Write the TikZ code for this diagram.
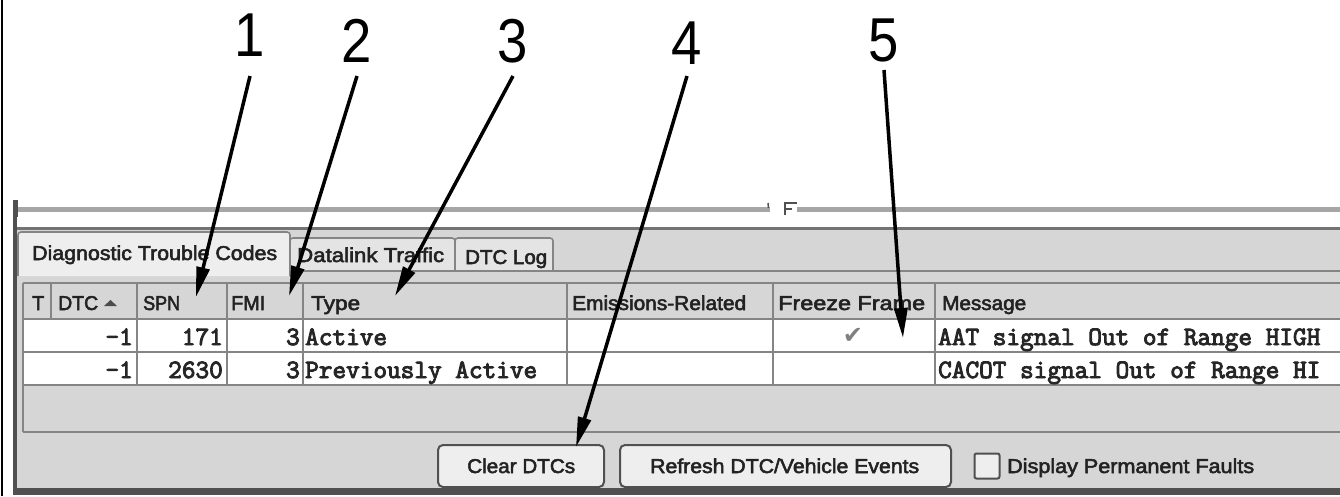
\documentclass[tikz,border=0pt]{standalone}
\usepackage{fontspec}
\setmainfont{Liberation Sans}
\newfontfamily\uif[FakeBold=2.6]{Liberation Sans}
\newfontfamily\monof[FakeBold=3.5]{Latin Modern Mono}
\newfontfamily\dejav{DejaVu Sans}
\usetikzlibrary{arrows.meta}
\definecolor{panelbg}{HTML}{D6D6D6}
\definecolor{gridc}{HTML}{858585}
\definecolor{darkb}{HTML}{505050}
\definecolor{tabbg}{HTML}{E4E4E4}
\definecolor{acttab}{HTML}{EEEEEE}
\definecolor{btnbg}{HTML}{EEEEEE}
\definecolor{uitext}{HTML}{222222}
\newcommand\fw[2]{\resizebox{#1pt}{\height}{#2}}
\begin{document}
\begin{tikzpicture}[x=1pt,y=-1pt,
  num/.style={font=\fontsize{62}{62}\selectfont, inner sep=0pt, anchor=south},
  arr/.style={line width=3.5pt, -{Triangle[length=30pt,width=13pt]}},
  ui/.style={font=\uif\fontsize{20}{20}\selectfont, inner sep=0pt, text=uitext, anchor=base west},
  mono/.style={font=\monof\fontsize{26.5}{27}\selectfont, inner sep=0pt, text=black!85},
  gridl/.style={draw=gridc, line width=2pt},
  btn/.style={draw=darkb, line width=2pt, fill=btnbg, rounded corners=5pt, minimum height=42pt, inner sep=0pt},
  tabsh/.style={draw=gridc, line width=1.6pt, rounded corners=3pt}
]
\useasboundingbox (0,0) rectangle (1340,496);
\fill[white] (0,0) rectangle (1340,496);
% outer black line
\draw[black, line width=2pt] (2,0) -- (2,496);
% panel background
\fill[panelbg] (13,228) rectangle (1340,494);
% splitter
\draw[gray!70, line width=5pt] (15,209) -- (770,209);
\draw[gray!70, line width=5pt] (797,209) -- (1340,209);
\fill[darkb] (13,200) rectangle (18,217);
\draw[darkb, line width=1.5pt] (768,203) -- (768.5,208);
\draw[darkb, line width=2.5pt] (785,215) -- (785,203) -- (797,203);
\draw[darkb, line width=2.5pt] (785,209) -- (792,209);
% panel borders
\draw[darkb!80, line width=3pt] (13,228.5) -- (1340,228.5);
\draw[darkb, line width=4pt] (15,200) -- (15,494);
\fill[darkb] (13,488) rectangle (1340,495);
% tabs
\draw[tabsh, fill=tabbg] (290,271) -- (290,238) -- (455,238) -- (455,271);
\draw[tabsh, fill=tabbg] (455,271) -- (455,238) -- (553,238) -- (553,271);
\draw[gridl] (290,271) -- (1340,271);
\draw[tabsh, fill=acttab] (18,276) -- (18,232) -- (290,232) -- (290,276);
\node[ui] (tab1) at (32,260) {\fw{245}{Diagnostic Trouble Codes}};
\node[ui] (tab2) at (297,262) {\fw{147}{Datalink Traffic}};
\node[ui] (tab3) at (465,264) {\fw{82}{DTC Log}};
% table
\fill[white] (23,319) rectangle (1340,385);
\foreach \yy in {283,319,352,385,432} \draw[gridl] (23,\yy) -- (1340,\yy);
\draw[gridl] (23,283) -- (23,432);
\foreach \xx in {51,137,227,303,567,773,935} \draw[gridl] (\xx,283) -- (\xx,319);
\foreach \xx in {137,227,303,567,773,935} \draw[gridl] (\xx,319) -- (\xx,385);
% header
\node[ui] (hT) at (32,310) {T};
\node[ui] (hDTC) at (58,310) {\fw{40}{DTC}};
\fill[black!70] (104,306) -- (117,306) -- (110.5,300) -- cycle;
\node[ui] (hSPN) at (143,310) {\fw{37}{SPN}};
\node[ui] (hFMI) at (231,310) {\fw{34}{FMI}};
\node[ui] (hType) at (311,310) {\fw{49}{Type}};
\node[ui] (hEm) at (572,310) {\fw{174}{Emissions-Related}};
\node[ui] (hFF) at (778,310) {\fw{147}{Freeze Frame}};
\node[ui] (hMsg) at (942,310) {\fw{84}{Message}};
% rows
\node[mono, anchor=base east] (r1a) at (133,345) {-1};
\node[mono, anchor=base east] (r1b) at (223,345) {171};
\node[mono, anchor=base east] (r1c) at (300,345) {3};
\node[mono, anchor=base west] (r1d) at (305,345) {Active};
\node[font=\dejav\fontsize{24}{24}\selectfont, text=black!50, inner sep=0pt] (chk1) at (853,336) {✔};
\node[mono, anchor=base west] (r1e) at (938,345) {AAT signal Out of Range HIGH};
\node[mono, anchor=base east] (r2a) at (133,378) {-1};
\node[mono, anchor=base east] (r2b) at (223,378) {2630};
\node[mono, anchor=base east] (r2c) at (300,378) {3};
\node[mono, anchor=base west] (r2d) at (305,378) {Previously Active};
\node[mono, anchor=base west] (r2e) at (938,378) {CACOT signal Out of Range HI};
% buttons
\node[btn, minimum width=166pt] (clr) at (521,466) {};
\node[ui] (clrt) at (467,473) {\fw{108}{Clear DTCs}};
\node[btn, minimum width=331pt] (refr) at (785.5,466) {};
\node[ui] (refrt) at (650,473) {\fw{269}{Refresh DTC/Vehicle Events}};
\node[draw=darkb, line width=2pt, fill=btnbg, rounded corners=2pt, minimum size=25pt, inner sep=0pt] (cbox) at (987,466) {};
\node[ui] (cboxt) at (1007,473) {\fw{247}{Display Permanent Faults}};
% callout numbers
\node[num, text depth=19pt] (n1) at (250,76) {\scalebox{0.88}[1]{1}};
\node[num, text depth=13pt] (n2) at (357,76) {\scalebox{0.88}[1]{2}};
\node[num, text depth=13pt] (n3) at (513,76) {\scalebox{0.88}[1]{3}};
\node[num, text depth=11pt] (n4) at (687,76) {\scalebox{0.88}[1]{4}};
\node[num, text depth=8pt] (n5) at (884,70) {\scalebox{0.88}[1]{5}};
\coordinate (t1) at (196,297);
\coordinate (t2) at (289,296);
\coordinate (t3) at (395,296);
\coordinate (t4) at (576,447);
\coordinate (t5) at (903,338);
\draw[arr] (n1.south) -- (t1);
\draw[arr] (n2.south) -- (t2);
\draw[arr] (n3.south) -- (t3);
\draw[arr] (n4.south) -- (t4);
\draw[arr] (n5.south) -- (t5);
\end{tikzpicture}
\end{document}
